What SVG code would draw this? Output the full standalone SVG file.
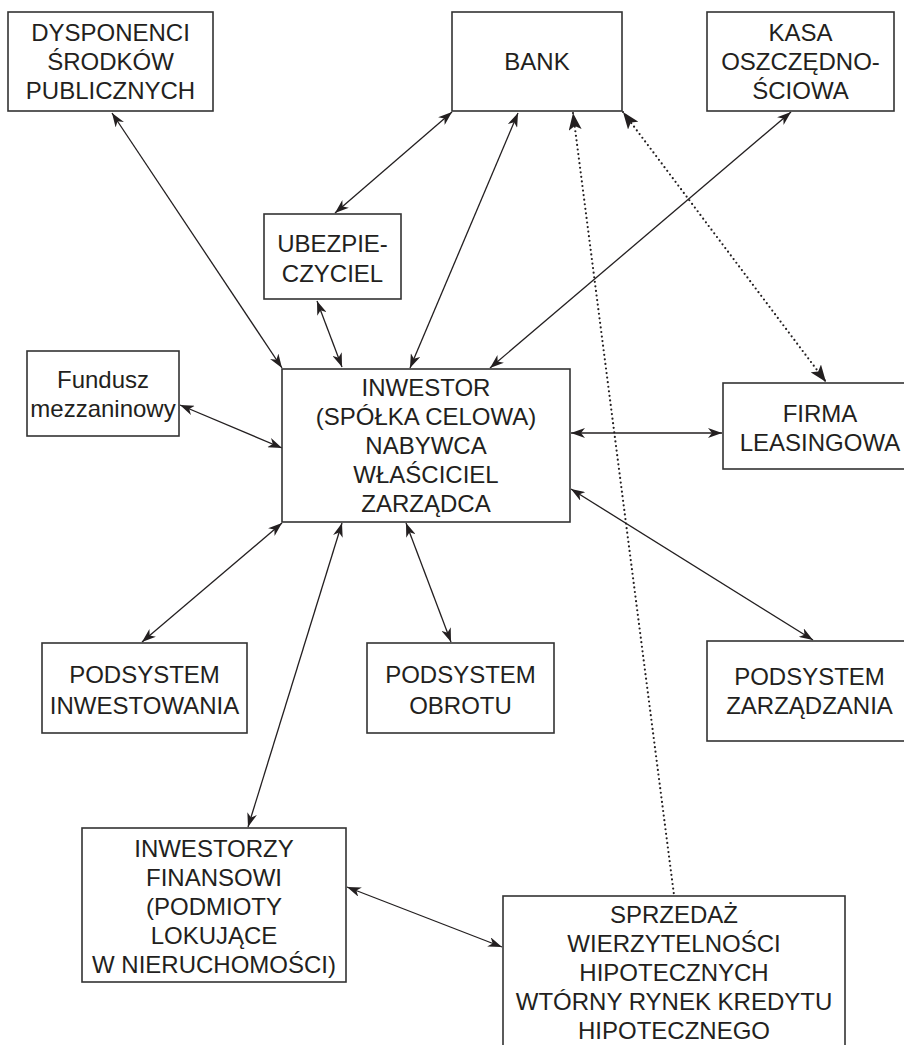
<svg xmlns="http://www.w3.org/2000/svg" width="904" height="1045" viewBox="0 0 904 1045">
<style>
.box{fill:#fff;stroke:#333;stroke-width:1.6}
.t{font-family:"Liberation Sans",Arial,sans-serif;font-size:24px;fill:#231f20;text-anchor:middle}
.ln{fill:none;stroke:#231f20;stroke-width:1.3}
.dt{fill:none;stroke:#231f20;stroke-width:2.2;stroke-dasharray:0 4.6;stroke-linecap:round}
</style>
<defs>
<marker id="a" viewBox="0 0 14 10" refX="14" refY="5" markerWidth="14" markerHeight="10" markerUnits="userSpaceOnUse" orient="auto-start-reverse"><path d="M0,0 L14,5 L0,10 L4,5 z" fill="#231f20"/></marker>
<marker id="b" viewBox="0 0 17 13" refX="17" refY="6.5" markerWidth="17" markerHeight="13" markerUnits="userSpaceOnUse" orient="auto-start-reverse"><path d="M0,0 L17,6.5 L0,13 L4,6.5 z" fill="#231f20"/></marker>
</defs>
<rect width="904" height="1045" fill="#fff"/>
<g id="connectors">
<path class="ln" d="M112,113 L282,368" marker-start="url(#a)" marker-end="url(#a)"/>
<path class="ln" d="M452,112 L335,213" marker-start="url(#a)" marker-end="url(#a)"/>
<path class="ln" d="M317,301 L342,367" marker-start="url(#a)" marker-end="url(#a)"/>
<path class="ln" d="M518,113 L410,368" marker-start="url(#a)" marker-end="url(#a)"/>
<path class="ln" d="M791,112 L490,368" marker-start="url(#a)" marker-end="url(#a)"/>
<path class="dt" d="M573,113 L674,895" marker-start="url(#b)"/>
<path class="dt" d="M623,112 L826,382" marker-start="url(#b)" marker-end="url(#b)"/>
<path class="ln" d="M180,405 L282,448" marker-start="url(#a)" marker-end="url(#a)"/>
<path class="ln" d="M571,433 L722,433" marker-start="url(#a)" marker-end="url(#a)"/>
<path class="ln" d="M571,489 L813,640" marker-start="url(#a)" marker-end="url(#a)"/>
<path class="ln" d="M282,523 L142,642" marker-start="url(#a)" marker-end="url(#a)"/>
<path class="ln" d="M406,523 L451,642" marker-start="url(#a)" marker-end="url(#a)"/>
<path class="ln" d="M342,523 L248,827" marker-start="url(#a)" marker-end="url(#a)"/>
<path class="ln" d="M347,887 L502,947" marker-start="url(#a)" marker-end="url(#a)"/>
</g>
<g id="dysponenci"><rect class="box" x="8" y="12" width="205" height="99"/>
<text class="t" x="110.5" y="41">DYSPONENCI</text><text class="t" x="110.5" y="70">ŚRODKÓW</text><text class="t" x="110.5" y="99">PUBLICZNYCH</text></g>
<g id="bank"><rect class="box" x="452" y="12" width="170" height="99"/>
<text class="t" x="537" y="70">BANK</text></g>
<g id="kasa"><rect class="box" x="707" y="12" width="187" height="99"/>
<text class="t" x="800.5" y="41">KASA</text><text class="t" x="800.5" y="70">OSZCZĘDNO-</text><text class="t" x="800.5" y="99">ŚCIOWA</text></g>
<g id="ubezpieczyciel"><rect class="box" x="264" y="214" width="137" height="85"/>
<text class="t" x="332.5" y="252">UBEZPIE-</text><text class="t" x="332.5" y="282">CZYCIEL</text></g>
<g id="fundusz"><rect class="box" x="27" y="351" width="152" height="85"/>
<text class="t" x="103" y="388">Fundusz</text><text class="t" x="103" y="417">mezzaninowy</text></g>
<g id="inwestor"><rect class="box" x="282" y="369" width="288" height="153"/>
<text class="t" x="426" y="396">INWESTOR</text><text class="t" x="426" y="425">(SPÓŁKA CELOWA)</text><text class="t" x="426" y="454">NABYWCA</text><text class="t" x="426" y="483">WŁAŚCICIEL</text><text class="t" x="426" y="512">ZARZĄDCA</text></g>
<g id="firma"><rect class="box" x="723" y="383" width="194" height="86"/>
<text class="t" x="820" y="422">FIRMA</text><text class="t" x="820" y="451">LEASINGOWA</text></g>
<g id="podsystem-inwestowania"><rect class="box" x="42" y="643" width="205" height="90"/>
<text class="t" x="144.5" y="683">PODSYSTEM</text><text class="t" x="144.5" y="714">INWESTOWANIA</text></g>
<g id="podsystem-obrotu"><rect class="box" x="367" y="643" width="187" height="90"/>
<text class="t" x="460.5" y="683">PODSYSTEM</text><text class="t" x="460.5" y="714">OBROTU</text></g>
<g id="podsystem-zarzadzania"><rect class="box" x="707" y="641" width="205" height="100"/>
<text class="t" x="809.5" y="685">PODSYSTEM</text><text class="t" x="809.5" y="714">ZARZĄDZANIA</text></g>
<g id="inwestorzy"><rect class="box" x="82" y="828" width="264" height="154"/>
<text class="t" x="214" y="857">INWESTORZY</text><text class="t" x="214" y="886">FINANSOWI</text><text class="t" x="214" y="915">(PODMIOTY</text><text class="t" x="214" y="944">LOKUJĄCE</text><text class="t" x="214" y="973">W NIERUCHOMOŚCI)</text></g>
<g id="sprzedaz"><rect class="box" x="503" y="896" width="342" height="170"/>
<text class="t" x="674" y="923">SPRZEDAŻ</text><text class="t" x="674" y="952">WIERZYTELNOŚCI</text><text class="t" x="674" y="981">HIPOTECZNYCH</text><text class="t" x="674" y="1010">WTÓRNY RYNEK KREDYTU</text><text class="t" x="674" y="1039">HIPOTECZNEGO</text></g>
</svg>
